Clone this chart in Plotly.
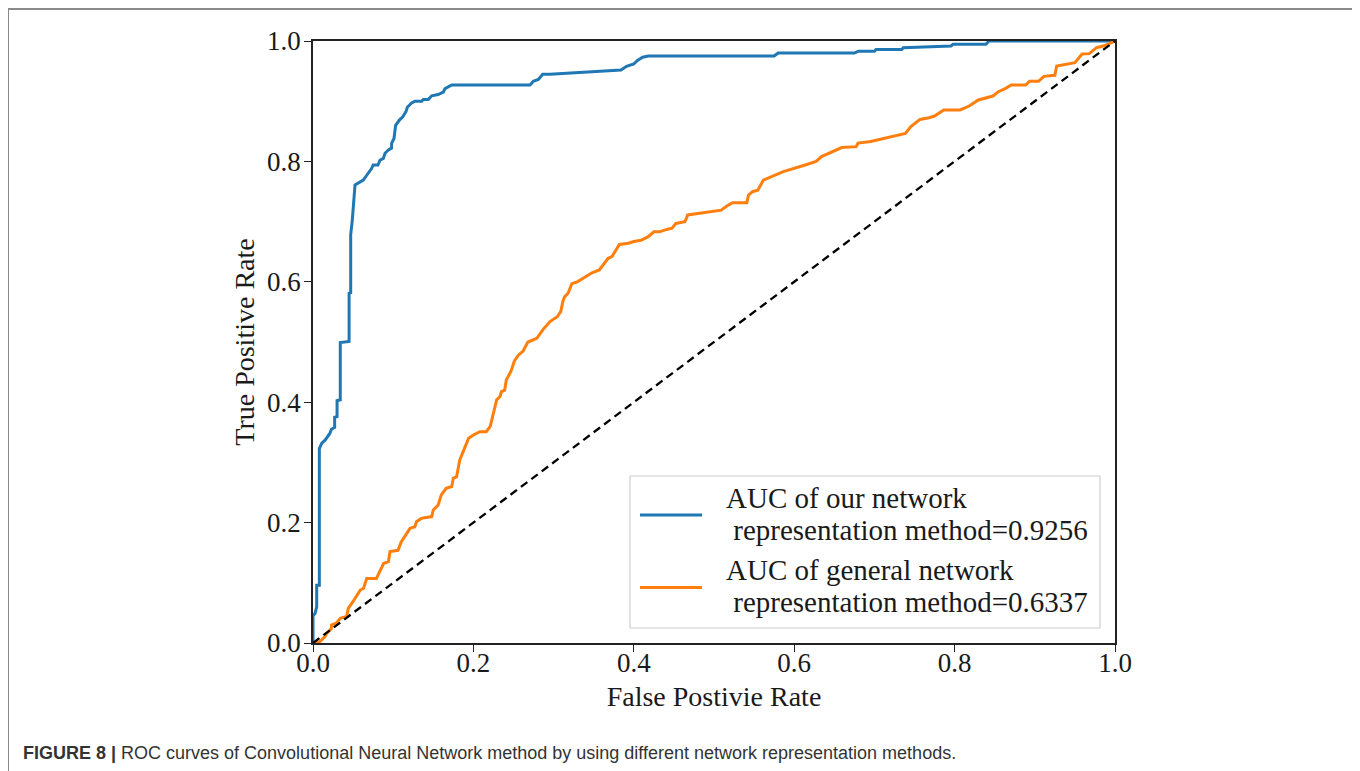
import plotly.graph_objects as go

# ---------------- data ----------------
blue_fpr = [0.0, 0.0, 0.0025, 0.0046, 0.0046, 0.0079, 0.0079, 0.011, 0.015, 0.021, 0.023, 0.027, 0.027,
            0.030, 0.030, 0.034, 0.034, 0.045, 0.045, 0.047, 0.047, 0.049, 0.0524, 0.0586, 0.0627,
            0.067, 0.073, 0.075, 0.081, 0.0835, 0.0877, 0.0898, 0.094, 0.098, 0.098, 0.101, 0.103,
            0.108, 0.112, 0.116, 0.1176, 0.123, 0.127, 0.1355, 0.1375, 0.1438, 0.148, 0.156, 0.1625,
            0.1646, 0.173, 0.2706, 0.2747, 0.281, 0.2864, 0.2955, 0.384, 0.391, 0.400, 0.405, 0.411,
            0.418, 0.575, 0.580, 0.675, 0.680, 0.700, 0.702, 0.734, 0.736, 0.755, 0.7955, 0.798,
            0.839, 0.843, 1.0]
blue_tpr = [0.0, 0.045, 0.049, 0.060, 0.096, 0.096, 0.323, 0.332, 0.337, 0.348, 0.355, 0.358, 0.375,
            0.376, 0.4025, 0.404, 0.499, 0.5008, 0.581, 0.582, 0.678, 0.703, 0.761, 0.766, 0.769,
            0.777, 0.788, 0.794, 0.794, 0.802, 0.805, 0.8135, 0.819, 0.822, 0.830, 0.838, 0.860,
            0.869, 0.874, 0.883, 0.890, 0.897, 0.900, 0.900, 0.903, 0.903, 0.909, 0.911, 0.915,
            0.921, 0.927, 0.927, 0.933, 0.936, 0.9447, 0.9447, 0.9518, 0.958, 0.962, 0.968, 0.973,
            0.975, 0.975, 0.980, 0.980, 0.983, 0.983, 0.9857, 0.9857, 0.9889, 0.990, 0.9917, 0.9945,
            0.9945, 1.0, 1.0]

orange_fpr = [0.0, 0.0083, 0.015, 0.017, 0.023, 0.023, 0.029, 0.034, 0.042, 0.044, 0.050, 0.059, 0.063,
              0.067, 0.079, 0.088, 0.094, 0.096, 0.106, 0.110, 0.121, 0.127, 0.129, 0.135, 0.148,
              0.150, 0.156, 0.160, 0.166, 0.173, 0.175, 0.179, 0.181, 0.183, 0.194, 0.200, 0.208,
              0.216, 0.221, 0.229, 0.233, 0.235, 0.239, 0.241, 0.247, 0.251, 0.256, 0.262, 0.268,
              0.279, 0.287, 0.2955, 0.3046, 0.309, 0.3115, 0.3137, 0.318, 0.3228, 0.3296, 0.3387,
              0.3478, 0.357, 0.3615, 0.368, 0.3728, 0.3796, 0.382, 0.3933, 0.400, 0.409, 0.418,
              0.425, 0.432, 0.441, 0.4478, 0.4524, 0.4638, 0.4673, 0.509, 0.516, 0.523, 0.541,
              0.543, 0.548, 0.5546, 0.5615, 0.5864, 0.6137, 0.6273, 0.6341, 0.6592, 0.6773, 0.6796,
              0.6955, 0.7387, 0.7455, 0.7569, 0.7682, 0.775, 0.7864, 0.8068, 0.8182, 0.8296,
              0.8478, 0.8546, 0.8637, 0.8705, 0.8887, 0.8932, 0.9046, 0.9114, 0.925, 0.9273, 0.950,
              0.959, 0.968, 0.977, 0.9864, 0.9977, 1.0]
orange_tpr = [0.0, 0.002, 0.0105, 0.016, 0.024, 0.030, 0.033, 0.041, 0.044, 0.0576, 0.069, 0.088, 0.091,
              0.107, 0.107, 0.132, 0.135, 0.152, 0.154, 0.168, 0.1905, 0.193, 0.2015, 0.207, 0.210,
              0.221, 0.229, 0.246, 0.257, 0.260, 0.274, 0.276, 0.290, 0.304, 0.340, 0.3455, 0.351,
              0.351, 0.360, 0.404, 0.409, 0.4176, 0.420, 0.437, 0.452, 0.468, 0.478, 0.485, 0.500,
              0.506, 0.521, 0.534, 0.542, 0.551, 0.567, 0.575, 0.581, 0.597, 0.600, 0.608,
              0.615, 0.6196, 0.628, 0.639, 0.642, 0.658, 0.662, 0.664, 0.667, 0.669, 0.675,
              0.683, 0.683, 0.687, 0.689, 0.697, 0.700, 0.711, 0.719, 0.726, 0.7315, 0.7315,
              0.744, 0.7497, 0.752, 0.769, 0.783, 0.794, 0.800, 0.808, 0.823, 0.8245, 0.8305,
              0.833, 0.8466, 0.8577, 0.8697, 0.8726, 0.8754, 0.8854, 0.8854, 0.892, 0.902,
              0.9086, 0.9158, 0.9214, 0.927, 0.927, 0.933, 0.933, 0.9413, 0.943, 0.9585, 0.964,
              0.9784, 0.979, 0.9889, 0.992, 0.9983, 1.0]

chance_x = [0.0, 1.0]
chance_y = [0.0, 1.0]

series_label_lines = [["AUC of our network", "&nbsp;representation method=0.9256"],
                      ["AUC of general network", "&nbsp;representation method=0.6337"]]
series_colors = ["#1f77b4", "#ff7f0e"]

tick_vals = [0.0, 0.2, 0.4, 0.6, 0.8, 1.0]
tick_text = ["0.0", "0.2", "0.4", "0.6", "0.8", "1.0"]

x_title = "False Postivie Rate"
y_title = "True Positive Rate"
caption = ("<b>FIGURE 8 |</b> ROC curves of Convolutional Neural Network method by using "
           "different network representation methods.")

# ---------------- figure ----------------
# the page body adds an 8px offset, so the figure is 8px smaller than the window
OFF = 8
W, H = 1352, 763
L, R, T, B = 305, 245, 33, 128
pw, ph = W - L - R, H - T - B


def px(xs):
    """screen x (px) -> paper x"""
    return (xs - OFF - L) / pw


def py(ys):
    """screen y (px) -> paper y"""
    return (H - B - (ys - OFF)) / ph


SERIF = "Liberation Serif, Times New Roman, serif"
SANS = "Liberation Sans, Arial, sans-serif"
INK = "#1a1a1a"

fig = go.Figure()
fig.add_trace(go.Scatter(x=blue_fpr, y=blue_tpr, mode="lines",
                         line=dict(color=series_colors[0], width=3),
                         name=" ".join(series_label_lines[0]), showlegend=False))
fig.add_trace(go.Scatter(x=orange_fpr, y=orange_tpr, mode="lines",
                         line=dict(color=series_colors[1], width=3),
                         name=" ".join(series_label_lines[1]), showlegend=False))
fig.add_trace(go.Scatter(x=chance_x, y=chance_y, mode="lines",
                         line=dict(color="black", width=2.3, dash="8px,5px"),
                         showlegend=False))

axis_common = dict(range=[0, 1], tickvals=tick_vals, ticktext=tick_text,
                   showgrid=False, zeroline=False, showline=True, mirror=True,
                   linecolor="#222222", linewidth=1.5,
                   ticks="outside", ticklen=7, tickwidth=1.3, tickcolor="#222222",
                   tickfont=dict(family=SERIF, size=27, color=INK))
fig.update_xaxes(**axis_common, ticklabelstandoff=-12,
                 title=dict(text=x_title, font=dict(family=SERIF, size=28, color=INK), standoff=9))
fig.update_yaxes(**axis_common, ticklabelstandoff=-2,
                 title=dict(text=y_title, font=dict(family=SERIF, size=28, color=INK), standoff=4))

shapes = []
# outer figure frame (open at bottom, extends past the viewport)
shapes.append(dict(type="rect", xref="paper", yref="paper",
                   x0=px(8), x1=px(1356), y0=py(800), y1=py(9),
                   line=dict(color="#8a8a8a", width=2), fillcolor="rgba(0,0,0,0)", layer="below"))
# legend box
shapes.append(dict(type="rect", xref="paper", yref="paper",
                   x0=px(630), x1=px(1100), y0=py(628), y1=py(476),
                   line=dict(color="#d0d0d0", width=1.2), fillcolor="white", layer="above"))
legend_line_y = [515, 587.5]
for c, ly in zip(series_colors, legend_line_y):
    shapes.append(dict(type="line", xref="paper", yref="paper",
                       x0=px(640), x1=px(702), y0=py(ly), y1=py(ly),
                       line=dict(color=c, width=3)))

annotations = []
text_rows = [(498, 530), (570, 602)]
for lines, rows in zip(series_label_lines, text_rows):
    for txt, ry in zip(lines, rows):
        annotations.append(dict(xref="paper", yref="paper", x=px(724), y=py(ry),
                                xanchor="left", yanchor="middle", align="left",
                                text=txt, showarrow=False,
                                font=dict(family=SERIF, size=29, color=INK)))
annotations.append(dict(xref="paper", yref="paper", x=px(21), y=py(753),
                        xanchor="left", yanchor="middle", align="left",
                        text=caption, showarrow=False,
                        font=dict(family=SANS, size=18, color="#333333")))

fig.update_layout(width=W, height=H, margin=dict(l=L, r=R, t=T, b=B, autoexpand=False),
                  paper_bgcolor="white", plot_bgcolor="white",
                  shapes=shapes, annotations=annotations, showlegend=False)

fig.write_html("out.html")
